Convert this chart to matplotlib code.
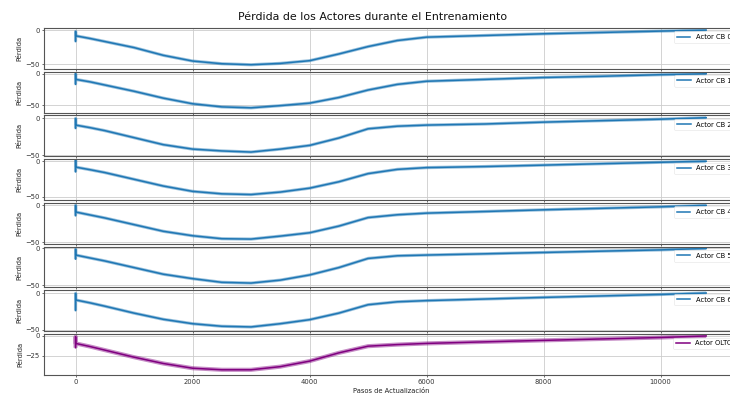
import matplotlib
matplotlib.use("Agg")
import matplotlib.pyplot as plt
from matplotlib.ticker import MaxNLocator

# ---- data ----
steps = [0, 1, 2, 250, 500, 1000, 1500, 2000, 2500, 3000, 3500, 4000,
         4500, 5000, 5500, 6000, 7000, 8000, 9000, 10000, 10780]

cb0 = [-16.5, -1.5, -8, -12, -16.5, -25.5, -37, -45.5, -49.5, -51, -49, -45,
       -35, -24, -15, -10, -7.5, -5, -3, -1, 0.5]
cb1 = [-17, 0, -9, -13, -18, -28, -39, -48, -53, -54.5, -51, -47,
       -38, -26, -17, -12, -9, -6, -4, -1.5, 0]
cb2 = [-14, -0.5, -9.5, -13, -17, -26.5, -36, -42, -44.5, -46, -42, -37,
       -27, -14.5, -11, -9.5, -8, -5.5, -3.5, -1.5, 0.5]
cb3 = [-15, 1.5, -8.3, -12, -16, -25.5, -35, -42.5, -46, -47, -43.5, -38,
       -29, -17.5, -11.5, -9, -7.5, -5.5, -3.5, -1.5, 0]
cb4 = [-14, 0, -9, -13, -17, -26, -35, -41, -45, -45.5, -41.5, -37,
       -28, -16.5, -12.7, -10.5, -8.3, -6, -4, -2, 0]
cb5 = [-14.5, -1, -9, -13, -17, -26, -35, -41, -46, -47, -43, -36,
       -26, -13.6, -10, -9, -7.3, -5.5, -3.7, -2, 0]
cb6 = [-24, -0.5, -9.5, -13.5, -18, -27.5, -36, -42, -45.5, -46.4, -42, -36.5,
       -27.5, -16, -12, -10.4, -8.2, -6, -4, -2, 0]
oltc = [-15, -1, -9.5, -13.5, -18, -27, -35, -41, -43, -43, -39, -32,
        -21.5, -13, -11, -9.5, -7.5, -5.6, -3.8, -2, 0]

series = [cb0, cb1, cb2, cb3, cb4, cb5, cb6, oltc]
labels = ["Actor CB 0", "Actor CB 1", "Actor CB 2", "Actor CB 3",
          "Actor CB 4", "Actor CB 5", "Actor CB 6", "Actor OLTC"]
colors = ["#1f77b4"] * 7 + ["purple"]
ylims = [(-57, 3.6), (-62, 3.2), (-51.7, 3.5), (-54.7, 2.8),
         (-51.8, 3.2), (-53, 2.3), (-52.3, 3.5), (-49.6, 2.2)]

FS = 4.9
plt.rcParams['font.family'] = ['DejaVu Sans']

fig, axes = plt.subplots(8, 1, sharex=True, figsize=(7.3, 3.99), dpi=100)
fig.subplots_adjust(left=0.0603, right=1.0106, top=0.9298, bottom=0.0602,
                    hspace=0.073)

for i, (ax, y, lab, c, yl) in enumerate(zip(axes, series, labels, colors, ylims)):
    halo = 3.0 if i == 7 else 2.3
    ax.plot(steps, y, color=c, lw=halo, alpha=0.45, solid_capstyle='butt')
    ax.plot(steps, y, color=c, lw=1.1, label=lab)
    ax.set_ylim(*yl)
    ax.yaxis.set_major_locator(MaxNLocator(nbins=2, steps=[1, 2, 2.5, 5, 10]))
    ax.grid(True, color="#cccccc", lw=0.6)
    ax.set_axisbelow(True)
    for s in ax.spines.values():
        s.set_color("#555555")
        s.set_linewidth(0.8)
    ax.tick_params(labelsize=FS, length=1.7, width=0.5, pad=1.2,
                   colors="#333333")
    ax.set_ylabel("Pérdida", fontsize=FS, labelpad=2, color="#222222")
    leg = ax.legend(loc="upper right", fontsize=FS, frameon=True,
                    borderaxespad=0.5, handlelength=2.0)
    leg.get_frame().set_linewidth(0.4)
    leg.get_frame().set_edgecolor("#dddddd")

axes[-1].set_xlim(-539, 11319)
axes[-1].set_xticks([0, 2000, 4000, 6000, 8000, 10000])
axes[-1].set_xlabel("Pasos de Actualización", fontsize=FS, labelpad=2,
                    color="#222222")

fig.suptitle("Pérdida de los Actores durante el Entrenamiento",
             fontsize=7.9, x=0.511, y=0.957, va="center", color="#111111")

fig.savefig("out.png", dpi=100)
